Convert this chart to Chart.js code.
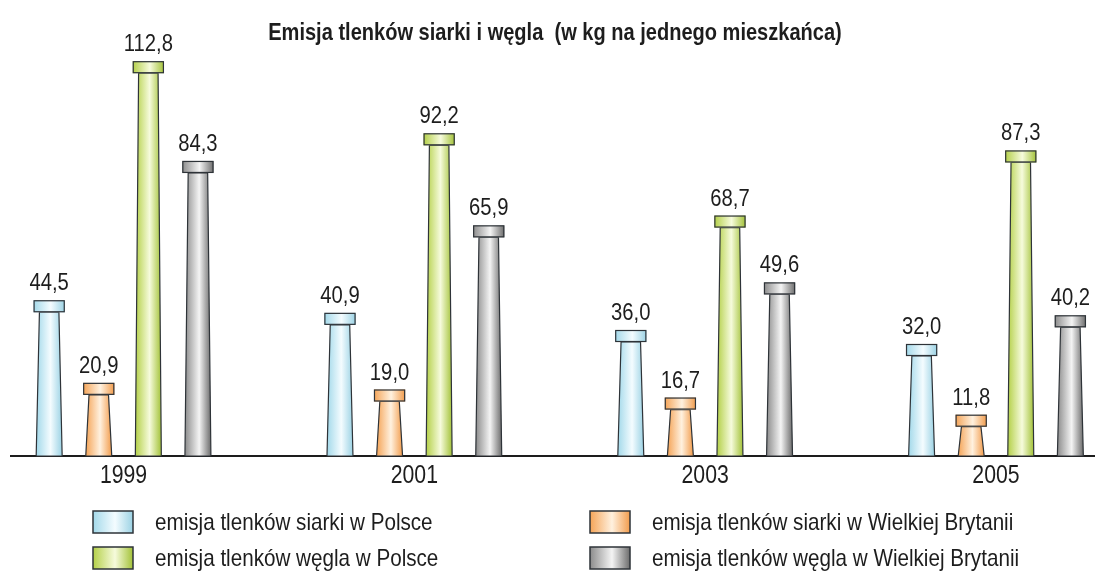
<!DOCTYPE html>
<html lang="pl">
<head>
<meta charset="utf-8">
<title>Emisja tlenków siarki i węgla</title>
<script src="https://cdn.jsdelivr.net/npm/chart.js@4/dist/chart.umd.min.js"></script>
<style>
    html, body { margin: 0; padding: 0; background: #fff; }
    #wrap { width: 1095px; height: 574px; position: relative; }
</style>
</head>
<body>
<div id="wrap"><canvas id="emissionChart"></canvas></div>
<script>
// Data (kg per inhabitant)
const years = [1999, 2001, 2003, 2005];
const sulphurPoland = [44.5, 40.9, 36.0, 32.0];
const sulphurBritain = [20.9, 19.0, 16.7, 11.8];
const carbonPoland = [112.8, 92.2, 68.7, 87.3];
const carbonBritain = [84.3, 65.9, 49.6, 40.2];
const seriesLabels = [
    'emisja tlenków siarki w Polsce',
    'emisja tlenków siarki w Wielkiej Brytanii',
    'emisja tlenków węgla w Polsce',
    'emisja tlenków węgla w Wielkiej Brytanii'
];
const chartTitle = 'Emisja tlenków siarki i węgla  (w kg na jednego mieszkańca)';

const FONT = "'Liberation Sans', Arial, sans-serif";
const TEXT = '#1d1d1d';
const OUTLINE = '#2e3338';

// edge / middle colours of each chimney gradient
const palette = [
    { edge: '#a3d9ea', mid: '#f4fcff', edge2: '#9bd2e4' },
    { edge: '#f5a457', mid: '#fff1df', edge2: '#f29c4c' },
    { edge: '#b4d048', mid: '#f6fbdc', edge2: '#a3c238' },
    { edge: '#8c8c8c', mid: '#f4f4f4', edge2: '#6c6c6c' }
];

function makeGradient(ctx, x0, x1, p) {
    const g = ctx.createLinearGradient(x0, 0, x1, 0);
    g.addColorStop(0, p.edge);
    g.addColorStop(0.55, p.mid);
    g.addColorStop(1, p.edge2);
    return g;
}

function formatValue(v) {
    return v.toFixed(1).replace('.', ',');
}

// the original uses a condensed grotesque, so squeeze the text horizontally
function narrowText(ctx, text, x, y, font, squeeze, align, baseline) {
    ctx.save();
    ctx.font = font;
    ctx.fillStyle = TEXT;
    ctx.textAlign = align;
    ctx.textBaseline = baseline;
    ctx.translate(x, y);
    ctx.scale(squeeze, 1);
    ctx.fillText(text, 0, 0);
    ctx.restore();
}

/**
 * Draws every bar as a small chimney (tapered body + cap) with its value above
 */
const chimneyPlugin = {
    id: 'chimneys',
    afterDatasetsDraw(chart) {
        const ctx = chart.ctx;
        ctx.save();
        chart.data.datasets.forEach((ds, di) => {
            const meta = chart.getDatasetMeta(di);
            const p = palette[di];
            meta.data.forEach((bar, i) => {
                const x = bar.x;
                const top = bar.y;
                const base = bar.base;
                const w = bar.width;
                const capW = w * 1.2;
                const capH = 12;
                const topW = w * 0.75;

                // body
                ctx.beginPath();
                ctx.moveTo(x - w / 2, base);
                ctx.lineTo(x - topW / 2, top + capH);
                ctx.lineTo(x + topW / 2, top + capH);
                ctx.lineTo(x + w / 2, base);
                ctx.closePath();
                ctx.fillStyle = makeGradient(ctx, x - w / 2, x + w / 2, p);
                ctx.fill();
                ctx.lineWidth = 1.2;
                ctx.strokeStyle = OUTLINE;
                ctx.stroke();

                // cap
                ctx.fillStyle = makeGradient(ctx, x - capW / 2, x + capW / 2, p);
                ctx.fillRect(x - capW / 2, top, capW, capH);
                ctx.strokeRect(x - capW / 2 + 0.5, top + 0.5, capW - 1, capH - 1);

                // value
                narrowText(ctx, formatValue(ds.data[i]), x, top - 10, '23px ' + FONT, 0.88, 'center', 'alphabetic');
            });
        });
        ctx.restore();
    }
};

/**
 * Title, year labels (taken from the x scale) and the two-column legend
 */
const textPlugin = {
    id: 'texts',
    afterDraw(chart) {
        const ctx = chart.ctx;
        const xScale = chart.scales.x;

        narrowText(ctx, chartTitle, 555, 33, 'bold 24px ' + FONT, 0.835, 'center', 'middle');

        xScale.ticks.forEach(t => {
            narrowText(ctx, String(t.value), xScale.getPixelForValue(t.value), 483, '25px ' + FONT, 0.85, 'center', 'alphabetic');
        });

        const cols = [93, 590];
        const rows = [511, 547];
        ctx.save();
        chart.data.datasets.forEach((ds, di) => {
            const x = cols[di % 2];
            const y = rows[Math.floor(di / 2)];
            ctx.fillStyle = makeGradient(ctx, x, x + 40, palette[di]);
            ctx.fillRect(x, y, 40, 22);
            ctx.lineWidth = 1.5;
            ctx.strokeStyle = OUTLINE;
            ctx.strokeRect(x, y, 40, 22);
            narrowText(ctx, ds.label, x + 62, y + 12, '24px ' + FONT, 0.86, 'left', 'middle');
        });
        ctx.restore();
    }
};

document.addEventListener('DOMContentLoaded', function() {
    const ctx = document.getElementById('emissionChart');
    const series = [sulphurPoland, sulphurBritain, carbonPoland, carbonBritain];

    new Chart(ctx, {
        type: 'bar',
        data: {
            labels: years,
            datasets: series.map((values, i) => ({
                label: seriesLabels[i],
                data: values,
                backgroundColor: 'rgba(0,0,0,0)',
                borderWidth: 0,
                categoryPercentage: 0.682,
                barPercentage: 0.524
            }))
        },
        options: {
            responsive: true,
            maintainAspectRatio: false,
            animation: false,
            layout: {
                padding: { left: 11, right: 0, top: 36, bottom: 0 }
            },
            plugins: {
                legend: { display: false },
                tooltip: { enabled: false },
                title: { display: false }
            },
            scales: {
                x: {
                    type: 'linear',
                    offset: false,
                    bounds: 'data',
                    min: 1998.226,
                    max: 2005.681,
                    grid: { display: false, drawTicks: false },
                    border: { display: true, color: TEXT, width: 2 },
                    ticks: { display: false },
                    afterBuildTicks: scale => {
                        scale.ticks = years.map(v => ({ value: v }));
                    },
                    afterFit: scale => {
                        scale.height = 118;
                    }
                },
                y: {
                    display: false,
                    min: 0,
                    max: 120
                }
            }
        },
        plugins: [chimneyPlugin, textPlugin]
    });
});
</script>
</body>
</html>
